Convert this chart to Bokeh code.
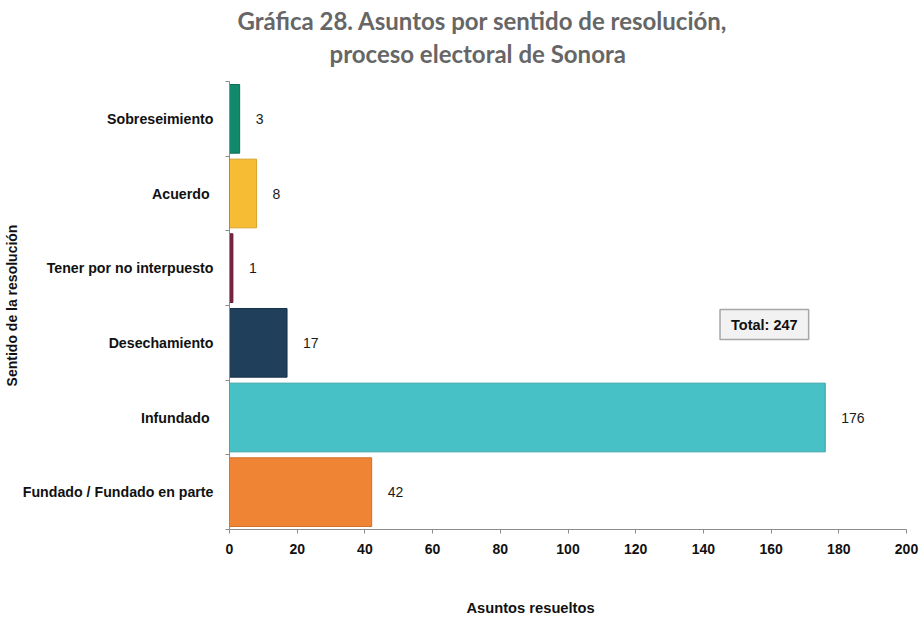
from bokeh.plotting import figure
from bokeh.models import ColumnDataSource, Range1d, FixedTicker, Label, Title
from bokeh.core.properties import value
from bokeh.embed import file_html
from bokeh.resources import INLINE

# ---- data (top to bottom as shown) ----
categories = ["Sobreseimiento", "Acuerdo ", "Tener por no interpuesto",
              "Desechamiento", "Infundado ", "Fundado / Fundado en parte"]
counts = [3, 8, 1, 17, 176, 42]
total_text = "Total: 247"
x_ticks = [0, 20, 40, 60, 80, 100, 120, 140, 160, 180, 200]
title_lines = ["Gráfica 28. Asuntos por sentido de resolución,",
               "proceso electoral de Sonora"]
x_title = "Asuntos resueltos"
y_title = "Sentido de la resolución"

fill_colors = ["#11896b", "#f6bc33", "#7a2340", "#1f3f5b", "#47c1c6", "#ef8435"]
line_colors = ["#0d6e55", "#d9a12a", "#5e1a31", "#183349", "#3aa3a8", "#d0702b"]

n = len(categories)
ypos = [n - i - 0.5 for i in range(n)]

src = ColumnDataSource(dict(y=ypos, v=counts, cat=categories,
                            fill=fill_colors, line=line_colors,
                            lab=[str(c) for c in counts]))

FONT = "Liberation Sans"
TF = "Lato"

p = figure(frame_width=677, frame_height=448,
           min_border_left=229, min_border_right=15,
           min_border_top=81, min_border_bottom=88,
           x_range=Range1d(0, 200), y_range=Range1d(0, n),
           output_backend="svg", toolbar_location=None)
p.outline_line_color = None
p.xgrid.visible = False
p.ygrid.visible = False

p.hbar(y="y", left=0, right="v", height=0.92, fill_color="fill",
       line_color="line", line_width=1, source=src)
p.text(x="v", y="y", text="lab", x_offset=16, text_align="left",
       text_baseline="middle", text_font=value(FONT), text_font_size="14px",
       text_color="#1a1a1a", source=src)

# x axis
xa = p.xaxis[0]
xa.ticker = FixedTicker(ticks=x_ticks)
xa.axis_line_color = "#8c8c8c"
xa.major_tick_line_color = "#8c8c8c"
xa.major_tick_out = 4
xa.major_tick_in = 0
xa.minor_tick_line_color = None
xa.major_label_text_font = FONT
xa.major_label_text_font_style = "bold"
xa.major_label_text_font_size = "14px"
xa.major_label_text_color = "#111111"
xa.major_label_standoff = 10

# y axis
ya = p.yaxis[0]
ya.ticker = FixedTicker(ticks=ypos, minor_ticks=list(range(n + 1)))
ya.major_label_overrides = {y: c for y, c in zip(ypos, categories)}
ya.axis_line_color = "#8c8c8c"
ya.major_tick_line_color = None
ya.major_tick_out = 0
ya.major_tick_in = 0
ya.minor_tick_line_color = "#8c8c8c"
ya.minor_tick_out = 4
ya.minor_tick_in = 0
ya.major_label_text_font = FONT
ya.major_label_text_font_style = "bold"
ya.major_label_text_font_size = "14.2px"
ya.major_label_text_color = "#111111"
ya.major_label_standoff = 12
ya.axis_label = y_title
ya.axis_label_standoff = 0
ya.axis_label_text_font = FONT
ya.axis_label_text_font_style = "bold"
ya.axis_label_text_font_size = "14px"
ya.axis_label_text_color = "#111111"

# total box
p.add_layout(Label(x=158, y=2.745, text=total_text, text_align="center",
                   text_baseline="middle", text_font=FONT, text_font_style="bold",
                   text_font_size="14.5px", text_color="#111111",
                   background_fill_color="#f2f2f2", border_line_color="#a6a6a6",
                   border_line_width=1.5,
                   padding=dict(left=11, right=11, top=7, bottom=7)))

# title block: spacer nearest the frame, then line 2, then line 1
p.add_layout(Title(text=" ", standoff=0, text_font=TF, text_font_size="10px"), "above")
p.add_layout(Title(text=title_lines[1], align="left", offset=100, standoff=0,
                   text_font=TF, text_font_style="bold", text_font_size="24px",
                   text_color="#666666"), "above")
p.add_layout(Title(text=title_lines[0], align="left", offset=8, standoff=3,
                   text_font=TF, text_font_style="bold", text_font_size="24px",
                   text_color="#666666"), "above")

# x axis title below a spacer
p.add_layout(Title(text=" ", standoff=28, text_font=FONT, text_font_size="10px"), "below")
p.add_layout(Title(text=x_title, align="left", offset=237, standoff=0,
                   text_font=FONT, text_font_style="bold", text_font_size="14.7px",
                   text_color="#111111"), "below")

open("out.html", "w").write(file_html(p, INLINE))
